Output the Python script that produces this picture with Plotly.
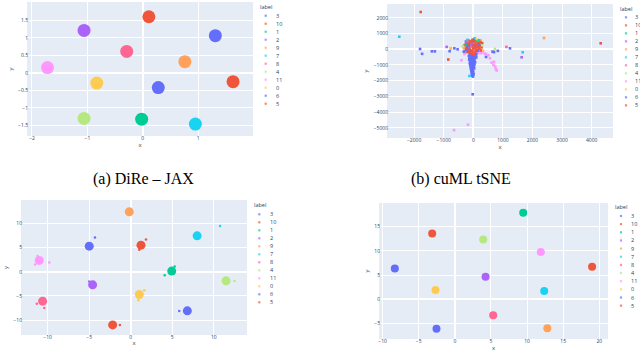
import plotly.graph_objects as go

W, H = 640, 357

labels = ["3", "10", "1", "2", "9", "7", "8", "4", "11", "0", "6", "5"]
colors = ["#636efa", "#EF553B", "#00cc96", "#ab63fa", "#FFA15A", "#19d3f3",
          "#FF6692", "#B6E880", "#FF97FF", "#FECB52", "#636efa", "#EF553B"]

# (a) DiRe - JAX : cluster centres, label order as above
a_x = [1.31, 0.11, -0.02, -1.06, 0.76, 0.95, -0.29, -1.06, -1.72, -0.83, 0.28, 1.63]
a_y = [1.06, 1.60, -1.32, 1.21, 0.32, -1.46, 0.61, -1.30, 0.15, -0.29, -0.42, -0.25]

# (b) cuML tSNE : individual points per label
b3_x = [-120, -60, 0, 60, -150, -90, -30, 30, 90, -130, -70, -10, 50, 100, -140, -80, -20, 40,
        -110, -50, 10, 60, -120, -60, 0, 40, -100, -40, 20, -90, -30, 20, -80, -20, 30, -70, -10,
        -60, 0, -50, 10, -40, -10]
b3_y = [-300, -320, -350, -300, -420, -450, -430, -460, -420, -540, -560, -580, -550, -520, -660,
        -680, -650, -700, -780, -800, -760, -820, -900, -930, -880, -950, -1020, -1050, -1000,
        -1130, -1160, -1110, -1240, -1270, -1220, -1350, -1380, -1460, -1490, -1570, -1600,
        -1680, -1740]
b10_x = [-250, -200, -150, -100, -50, 0, 50, 100, 150, 200, -220, -170, -120, -60, 0, 60, 120,
         180, 240, -280, -200, -130, -60, 10, 80, 140, 210, -180, -100, -20, 60, 130, -240, 280,
         300, -300, -1777, -845]
b10_y = [350, 450, 550, 400, 300, 450, 350, 500, 400, 300, 150, 250, 120, 200, 100, 220, 150, 100,
         200, 0, -50, 30, -80, -20, 50, -60, 20, -180, -220, -150, -200, -180, -120, 120, 400, 250,
         2376, -650]
b1_x = [-150, 20, 100, -250, 200]
b1_y = [450, 650, 550, 280, 580]
b2_x = [-900, 1634, -60, 150, -250]
b2_y = [150, -510, 350, -150, 500]
b9_x = [2389, -760, -320, 250]
b9_y = [720, 50, 100, 550]
b7_x = [-2500, 1668, -130, 50, -200]
b7_y = [800, -190, -1700, 700, 600]
b8_x = [-180, -80, 40, 160, -260, 1120]
b8_y = [500, 150, -80, 250, -200, 150]
b4_x = [730, -350, 300]
b4_y = [20, 200, 250]
b11_x = [-180, -650, 510, 564, 620, 680, 740, 790, 760, 300, 380, 200, 250, -400, 330, 430, 150,
         -300, 700]
b11_y = [-4800, -5150, -380, -573, -850, -1000, -1100, -1350, -1250, -200, -280, -120, -250, -700,
         -120, -300, -250, -300, -800]
b0_x = [-780, -300, 100, 300]
b0_y = [80, -50, 650, -50]
b6_x = [-1800, -1730, -1400, -1300, -800, -640, -530, 430, 650, 700, 830, 1240, -200, -150, -100,
        50, 150, -250, 200, -320, 100, -20]
b6_y = [20, -290, -130, -130, -120, 60, 0, -490, -150, -180, -100, 60, 100, 250, -100, 200, -100,
        -50, 300, -150, -300, -2866]
b5_x = [-230, -160, -90, -30, 40, 110, 170, 230, -130, 20, 90, 250, -50, 30, 4304]
b5_y = [50, 350, 500, 600, 550, 300, 200, 450, -120, 250, -100, -80, -300, -350, 382]

# (c) : cluster centres and a few stray points
c_x = [-4.99, 1.24, 4.94, -4.58, -0.17, 8.0, -10.6, 11.48, -11.0, 1.04, 6.82, -2.17]
c_y = [5.33, 5.54, 0.15, -2.7, 12.45, 7.47, -6.08, -1.87, 2.37, -4.69, -8.09, -11.0]
c_out_x = [[-4.3], [1.84, 1.04], [4.1, 5.3], [-5.0], [], [10.76], [-11.3, -10.4], [12.5],
           [-11.2, -9.8, -11.5], [1.64, 0.92], [5.85], [-1.3]]
c_out_y = [[7.1], [6.7, 4.6], [-0.7, 1.1], [-2.0], [], [9.5], [-6.6, -7.5], [-1.9],
           [3.3, 1.95, 1.5], [-3.8, -5.9], [-8.1], [-11.0]]

# (d) : cluster centres
d_x = [-8.31, -3.14, 9.46, 4.25, 12.8, 12.37, 5.31, 3.92, 11.9, -2.68, -2.54, 19.0]
d_y = [6.39, 13.6, 17.86, 4.66, -5.98, 1.71, -3.3, 12.37, 9.8, 1.92, -6.06, 6.72]

captions = ["(a) DiRe – JAX", "(b) cuML tSNE"]

b_sets = [(b3_x, b3_y), (b10_x, b10_y), (b1_x, b1_y), (b2_x, b2_y), (b9_x, b9_y), (b7_x, b7_y),
          (b8_x, b8_y), (b4_x, b4_y), (b11_x, b11_y), (b0_x, b0_y), (b6_x, b6_y), (b5_x, b5_y)]

fig = go.Figure()

for i, lab in enumerate(labels):
    col = colors[i]
    fig.add_trace(go.Scatter(x=[a_x[i]], y=[a_y[i]], mode="markers", name=lab, showlegend=False,
                             marker=dict(color=col, size=13), xaxis="x", yaxis="y"))
    fig.add_trace(go.Scatter(x=b_sets[i][0], y=b_sets[i][1], mode="markers", name=lab,
                             showlegend=False, marker=dict(color=col, size=2.6, symbol="square"),
                             xaxis="x2", yaxis="y2"))
    fig.add_trace(go.Scatter(x=[c_x[i]], y=[c_y[i]], mode="markers", name=lab, showlegend=False,
                             marker=dict(color=col, size=9), xaxis="x3", yaxis="y3"))
    fig.add_trace(go.Scatter(x=c_out_x[i], y=c_out_y[i], mode="markers", name=lab,
                             showlegend=False, marker=dict(color=col, size=2.5),
                             xaxis="x3", yaxis="y3"))
    fig.add_trace(go.Scatter(x=[d_x[i]], y=[d_y[i]], mode="markers", name=lab, showlegend=False,
                             marker=dict(color=col, size=8), xaxis="x4", yaxis="y4"))


def px_dom(a, b, total):
    return [a / total, b / total]


def py_dom(top, bottom):
    return [1 - bottom / H, 1 - top / H]


tickfont = dict(family="Open Sans", size=5, color="#2a3f5f")
titlefont = dict(family="Open Sans", size=6, color="#2a3f5f")

boxes = {
    "1": ((27, 253), (2, 136), [-2.09, 1.99], [-1.80, 2.02], 1, 0.5),
    "2": ((387, 613), (4, 138), [-2916, 4720], [-5650, 2885], 1000, 1000),
    "3": ((21, 247), (200, 335), [-13.2, 14.0], [-13.1, 14.9], 5, 5),
    "4": ((379, 608), (203, 339), [-10.5, 21.2], [-8.2, 19.9], 5, 5),
}

layout_axes = {}
for k, ((x0, x1), (y0, y1), xr, yr, dx, dy) in boxes.items():
    xa = "xaxis" if k == "1" else "xaxis" + k
    ya = "yaxis" if k == "1" else "yaxis" + k
    yref = "y" if k == "1" else "y" + k
    xref = "x" if k == "1" else "x" + k
    layout_axes[xa] = dict(domain=px_dom(x0, x1, W), range=xr, dtick=dx, anchor=yref,
                           tickfont=tickfont, gridcolor="white", zerolinecolor="white",
                           zerolinewidth=1.5, gridwidth=0.8, showline=False,
                           ticklabelstandoff=-2,
                           title=dict(text="x", font=titlefont, standoff=1))
    layout_axes[ya] = dict(domain=py_dom(y0, y1), range=yr, dtick=dy, anchor=xref,
                           tickfont=tickfont, gridcolor="white", zerolinecolor="white",
                           zerolinewidth=1.5, gridwidth=0.8, showline=False,
                           ticklabelstandoff=-2,
                           title=dict(text="y", font=titlefont, standoff=4))

annotations = []
shapes = []

# legend blocks (title x, title y, marker x, text x, first item y, step)
legend_blocks = [
    (258, 7, 265.7, 274.3, 15.7, 8.0),
    (618, 9, 626, 632.5, 17.3, 8.0),
    (252, 205, 259.3, 267.7, 214.3, 8.0),
    (612.7, 207.3, 621, 628.5, 216, 8.15),
]
legfont = dict(family="Open Sans", size=5.5, color="#2a3f5f")
for (tx, ty, mx, lx, y0, step) in legend_blocks:
    annotations.append(dict(text="label", x=tx / W, y=1 - ty / H, xref="paper", yref="paper",
                            xanchor="left", yanchor="middle", showarrow=False, font=legfont))
    for i, lab in enumerate(labels):
        yy = y0 + step * i
        annotations.append(dict(text=lab, x=lx / W, y=1 - yy / H, xref="paper", yref="paper",
                                xanchor="left", yanchor="middle", showarrow=False, font=legfont))
        shapes.append(dict(type="rect", xref="paper", yref="paper",
                           x0=(mx - 1.1) / W, x1=(mx + 1.1) / W,
                           y0=1 - (yy + 1.1) / H, y1=1 - (yy - 1.1) / H,
                           fillcolor=colors[i], line=dict(width=0), opacity=0.7))

capfont = dict(family="Liberation Serif", size=16, color="black")
annotations.append(dict(text=captions[0], x=143 / W, y=1 - 179 / H, xref="paper", yref="paper",
                        xanchor="center", yanchor="middle", showarrow=False, font=capfont))
annotations.append(dict(text=captions[1], x=461 / W, y=1 - 179 / H, xref="paper", yref="paper",
                        xanchor="center", yanchor="middle", showarrow=False, font=capfont))

fig.update_layout(width=W, height=H, margin=dict(l=0, r=0, t=0, b=0),
                  plot_bgcolor="#E5ECF6", paper_bgcolor="white", showlegend=False,
                  hovermode=False,
                  annotations=annotations, shapes=shapes, **layout_axes)

fig.write_html("out.html", config={"displayModeBar": False},
               post_script="document.body.style.margin='0';document.body.style.overflow='hidden';")
